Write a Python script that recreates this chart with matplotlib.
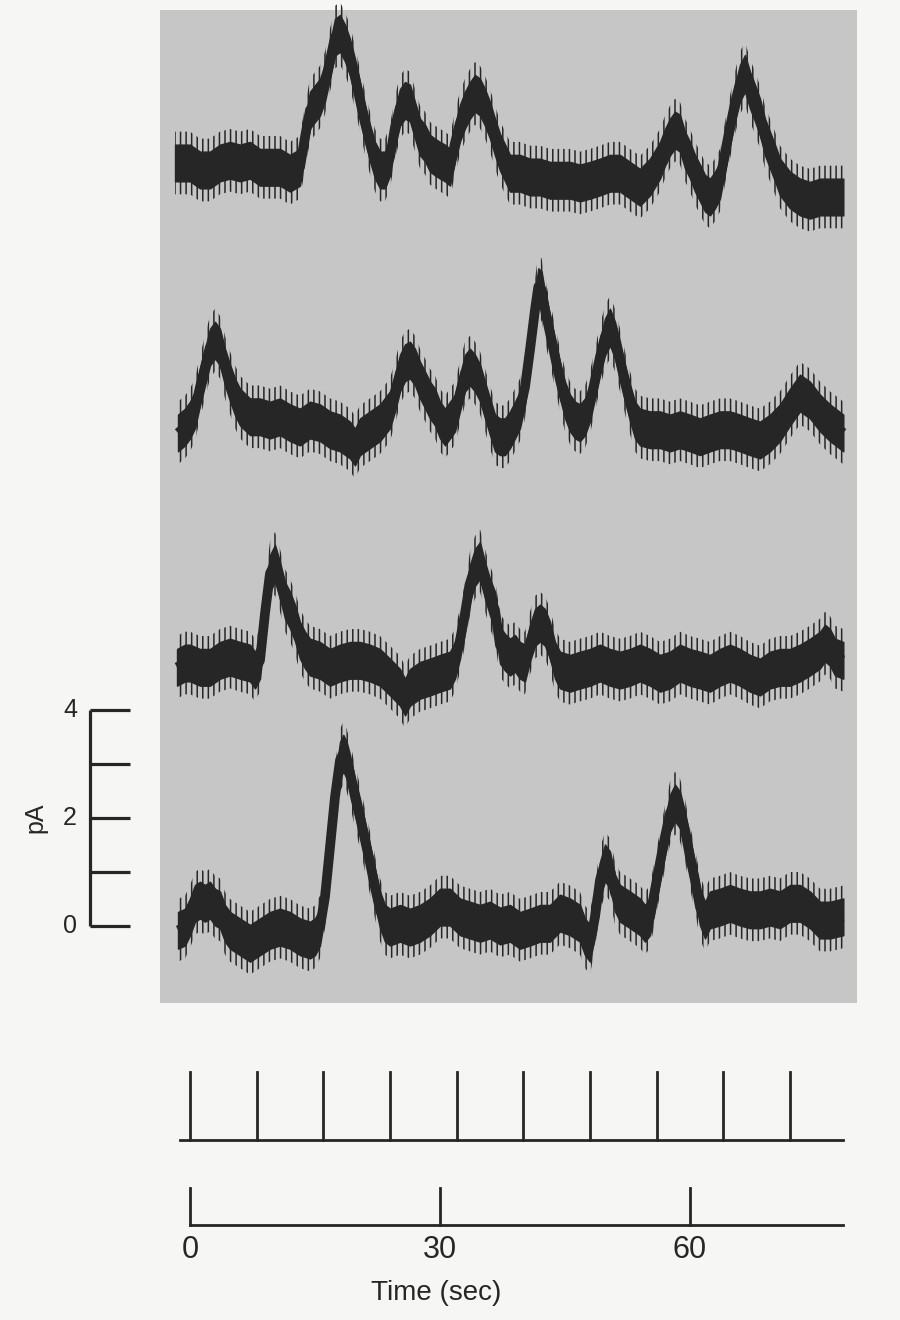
import matplotlib
matplotlib.use("Agg")
import matplotlib.pyplot as plt
from matplotlib.patches import Rectangle

# current traces: time (s), current above the trace's own baseline (pA)
t1 = [-1.8, 0.0, 1.2, 2.4, 3.6, 4.8, 6.0, 7.2, 8.4, 9.6, 10.8, 12.0, 13.2, 13.8, 14.4, 15.6,
      16.2, 16.8, 17.4, 18.0, 18.6, 19.2, 19.8, 20.4, 21.0, 21.6, 22.2, 22.8, 23.4, 24.0, 24.6,
      25.2, 25.8, 26.4, 27.0, 27.6, 28.2, 28.8, 29.4, 30.0, 30.6, 31.2, 31.8, 32.4, 33.0, 33.6,
      34.2, 34.8, 35.4, 36.0, 36.6, 37.2, 38.4, 39.6, 40.8, 42.0, 43.2, 44.4, 45.6, 46.8, 48.0,
      49.2, 50.4, 51.6, 52.8, 54.0, 55.2, 56.4, 57.0, 57.6, 58.2, 58.8, 59.4, 60.0, 60.6, 61.2,
      61.8, 62.4, 63.0, 63.6, 64.2, 64.8, 65.4, 66.0, 66.6, 67.2, 67.8, 68.4, 69.0, 69.6, 70.2,
      70.8, 72.0, 73.2, 74.4, 75.6, 76.8, 78.4]
i1 = [0.04, 0.04, -0.09, -0.09, 0.04, 0.09, 0.04, 0.09, -0.04, -0.04, -0.04, -0.15, -0.04, 0.52,
      1.02, 1.26, 1.52, 1.94, 2.37, 2.44, 2.26, 2.0, 1.63, 1.2, 0.78, 0.41, 0.09, -0.09, -0.09,
      0.15, 0.70, 1.07, 1.2, 1.15, 0.83, 0.52, 0.41, 0.22, 0.15, 0.09, 0.04, -0.04, 0.41, 0.78,
      1.02, 1.2, 1.33, 1.26, 1.07, 0.83, 0.52, 0.24, -0.15, -0.15, -0.22, -0.22, -0.28, -0.28,
      -0.28, -0.33, -0.28, -0.22, -0.15, -0.15, -0.28, -0.41, -0.22, 0.09, 0.33, 0.52, 0.65, 0.59,
      0.28, 0.09, -0.15, -0.33, -0.52, -0.59, -0.46, -0.28, 0.22, 0.70, 1.15, 1.52, 1.70, 1.39,
      1.15, 0.89, 0.52, 0.28, 0.04, -0.22, -0.46, -0.59, -0.65, -0.59, -0.59, -0.59]

t2 = [-1.44, -0.6, 0.0, 0.6, 1.2, 1.8, 2.4, 3.0, 3.6, 4.2, 4.8, 5.4, 6.0, 7.2, 8.4, 9.6, 10.8,
      12.0, 13.2, 14.4, 15.6, 16.8, 18.0, 19.2, 19.8, 20.4, 21.6, 22.8, 24.0, 24.6, 25.2, 25.8,
      26.4, 27.0, 27.6, 28.2, 28.8, 29.4, 30.0, 30.6, 31.2, 31.8, 32.4, 33.0, 33.6, 34.2, 34.8,
      35.4, 36.0, 36.6, 37.2, 37.8, 38.4, 39.0, 39.6, 40.2, 40.8, 41.4, 41.8, 42.2, 42.6, 43.2,
      43.8, 44.4, 45.0, 45.6, 46.2, 46.8, 47.4, 48.0, 48.6, 49.2, 49.8, 50.4, 51.0, 51.6, 52.2,
      52.8, 53.4, 54.0, 55.2, 56.4, 57.6, 58.8, 60.0, 61.2, 62.4, 63.6, 64.8, 66.0, 67.2, 68.4,
      69.6, 70.8, 72.0, 73.2, 74.4, 75.6, 76.8, 78.4]
i2 = [-0.15, -0.04, 0.09, 0.28, 0.70, 1.07, 1.44, 1.57, 1.44, 1.07, 0.78, 0.52, 0.33, 0.15, 0.15,
      0.09, 0.15, 0.04, -0.04, 0.09, 0.04, -0.09, -0.15, -0.28, -0.41, -0.22, -0.09, 0.04, 0.28,
      0.59, 0.96, 1.15, 1.2, 1.07, 0.83, 0.65, 0.46, 0.33, 0.09, -0.04, 0.09, 0.22, 0.59, 0.96,
      1.07, 0.96, 0.78, 0.46, 0.15, -0.15, -0.22, -0.22, -0.09, 0.09, 0.28, 0.70, 1.39, 2.13,
      2.56, 2.5, 2.13, 1.70, 1.26, 0.83, 0.46, 0.22, 0.09, 0.04, 0.15, 0.41, 0.83, 1.26, 1.63,
      1.81, 1.57, 1.2, 0.78, 0.41, 0.09, -0.04, -0.09, -0.09, -0.15, -0.09, -0.15, -0.22, -0.15,
      -0.09, -0.09, -0.15, -0.22, -0.28, -0.15, 0.04, 0.33, 0.59, 0.46, 0.22, 0.04, -0.15]

t3 = [-1.56, -0.6, 0.0, 1.2, 2.4, 3.6, 4.8, 6.0, 7.2, 7.8, 8.4, 9.0, 9.6, 10.2, 10.8, 11.4, 12.0,
      12.6, 13.2, 13.8, 14.4, 15.6, 16.8, 18.0, 19.2, 20.4, 21.6, 22.8, 24.0, 25.2, 25.8, 26.4,
      27.6, 28.8, 30.0, 31.2, 31.8, 32.4, 33.0, 33.6, 34.2, 34.8, 35.4, 36.0, 36.6, 37.2, 37.8,
      38.4, 39.0, 39.6, 40.2, 40.8, 41.4, 42.0, 42.6, 43.2, 43.8, 44.4, 45.6, 46.8, 48.0, 49.2,
      50.4, 51.6, 52.8, 54.0, 55.2, 56.4, 57.6, 58.8, 60.0, 61.2, 62.4, 63.6, 64.8, 66.0, 67.2,
      68.4, 69.6, 70.8, 72.0, 73.2, 74.4, 75.6, 76.2, 76.8, 77.4, 78.4]
i3 = [-0.04, 0.04, 0.04, -0.04, -0.04, 0.09, 0.15, 0.09, 0.04, -0.09, 0.09, 0.96, 1.70, 1.89,
      1.57, 1.2, 1.02, 0.78, 0.46, 0.28, 0.15, 0.09, -0.04, 0.04, 0.09, 0.09, 0.04, -0.04, -0.22,
      -0.41, -0.59, -0.41, -0.28, -0.22, -0.15, -0.09, 0.09, 0.46, 0.96, 1.52, 1.81, 1.94, 1.57,
      1.26, 1.02, 0.37, 0.24, 0.15, 0.22, 0.09, 0.04, 0.41, 0.70, 0.78, 0.70, 0.46, 0.09, -0.09,
      -0.15, -0.09, -0.04, 0.04, -0.04, -0.09, -0.04, 0.04, -0.04, -0.15, -0.09, 0.04, -0.04,
      -0.09, -0.15, -0.04, 0.04, -0.04, -0.15, -0.22, -0.09, -0.04, -0.04, 0.04, 0.15, 0.28, 0.41,
      0.33, 0.15, 0.09]

t4 = [-1.44, -0.6, 0.0, 0.6, 1.2, 1.8, 2.4, 3.0, 3.6, 4.2, 4.8, 6.0, 7.2, 8.4, 9.6, 10.8, 12.0,
      13.2, 14.4, 15.0, 15.6, 16.2, 16.8, 17.4, 18.0, 18.4, 18.8, 19.2, 19.8, 20.4, 21.0, 21.6,
      22.2, 22.8, 23.4, 24.0, 25.2, 26.4, 27.6, 28.8, 30.0, 31.2, 32.4, 33.6, 34.8, 36.0, 37.2,
      38.4, 39.6, 40.8, 42.0, 43.2, 44.4, 45.6, 46.8, 47.4, 48.0, 48.6, 49.2, 49.8, 50.4, 51.0,
      51.6, 52.8, 54.0, 54.6, 55.2, 55.8, 56.4, 57.0, 57.6, 58.2, 58.8, 59.4, 60.0, 60.6, 61.2,
      61.8, 62.4, 63.6, 64.8, 66.0, 67.2, 68.4, 69.6, 70.8, 72.0, 73.2, 74.4, 75.6, 76.8, 78.4]
i4 = [-0.19, -0.13, 0.06, 0.31, 0.37, 0.31, 0.37, 0.24, 0.19, -0.06, -0.19, -0.31, -0.43, -0.31,
      -0.19, -0.13, -0.19, -0.31, -0.37, -0.31, -0.13, 0.43, 1.35, 2.28, 2.96, 3.09, 2.96, 2.72,
      2.28, 1.91, 1.48, 1.06, 0.61, 0.19, -0.06, -0.13, -0.06, -0.13, -0.06, 0.06, 0.24, 0.24,
      0.06, 0.0, -0.06, 0.0, -0.11, -0.06, -0.19, -0.13, -0.06, -0.06, 0.13, 0.06, -0.06, -0.31,
      -0.43, 0.06, 0.74, 1.06, 0.93, 0.50, 0.31, 0.19, 0.06, -0.06, 0.06, 0.56, 1.06, 1.54, 1.98,
      2.17, 2.04, 1.67, 1.17, 0.74, 0.24, 0.0, 0.19, 0.24, 0.31, 0.24, 0.19, 0.19, 0.24, 0.19,
      0.31, 0.31, 0.19, 0.0, 0.0, 0.06]

traces = [(t1, i1), (t2, i2), (t3, i3), (t4, i4)]
offsets = [14.09, 9.28, 4.83, 0.11]   # where each trace sits on the page, in pA

marks_fast = [0, 8, 16, 24, 32, 40, 48, 56, 64, 72]
marks_slow = [0, 30, 60]
scale_ticks = [0, 1, 2, 3, 4]
scale_labels = ["0", "", "2", "", "4"]

ink = "#262626"
core = 0.34    # half height of the dense noise band, pA
spiky = 0.58   # reach of the occasional spikes, pA

plt.rcParams["hatch.linewidth"] = 1.1
plt.rcParams["hatch.color"] = ink

fig = plt.figure(figsize=(9, 13.2), dpi=100)
fig.patch.set_facecolor("#f6f6f4")
ax = fig.add_axes([0, 0, 1, 1])
ax.set_xlim(-22.8, 85.2)
ax.set_ylim(-7.296, 17.148)
ax.axis("off")

ax.add_patch(Rectangle((-3.6, -1.43), 83.64, 18.39, facecolor="#c6c6c6", edgecolor="none"))

for (t, cur), off in zip(traces, offsets):
    y = [off + c for c in cur]
    # vertical strokes for the noise spikes
    ax.fill_between(t, [v - spiky for v in y], [v + spiky for v in y],
                    facecolor="none", edgecolor=ink, hatch="|||", linewidth=0)
    ax.fill_between(t, [v - core for v in y], [v + core for v in y],
                    color=ink, linewidth=1.0, edgecolor=ink)
    ax.plot(t, y, color=ink, lw=7, solid_joinstyle="round", solid_capstyle="butt")

# current scale bar
ax.plot([-12.0, -12.0], [0, 4], color=ink, lw=2.3, solid_capstyle="butt")
for yt, lab in zip(scale_ticks, scale_labels):
    ax.plot([-12.0, -7.2], [yt, yt], color=ink, lw=2.3, solid_capstyle="butt")
    if lab:
        ax.text(-14.4, yt, lab, ha="center", va="center", fontsize=18,
                family="Liberation Sans", color=ink)
ax.text(-18.5, 2.0, "pA", rotation=90, ha="center", va="center", fontsize=18,
        family="Liberation Sans", color=ink)

# time markers
ax.plot([-1.2, 78.4], [-3.96, -3.96], color=ink, lw=2.0)
for m in marks_fast:
    ax.plot([m, m], [-3.96, -2.70], color=ink, lw=2.0)
ax.plot([0, 78.4], [-5.54, -5.54], color=ink, lw=2.0)
for m in marks_slow:
    ax.plot([m, m], [-5.54, -4.85], color=ink, lw=2.0)
    ax.text(m, -6.0, str(m), ha="center", va="center", fontsize=22,
            family="Liberation Sans", color=ink)
ax.text(29.6, -6.8, "Time (sec)", ha="center", va="center", fontsize=20,
        family="Liberation Sans", color=ink)

fig.savefig("out.png", dpi=100, facecolor=fig.get_facecolor())
